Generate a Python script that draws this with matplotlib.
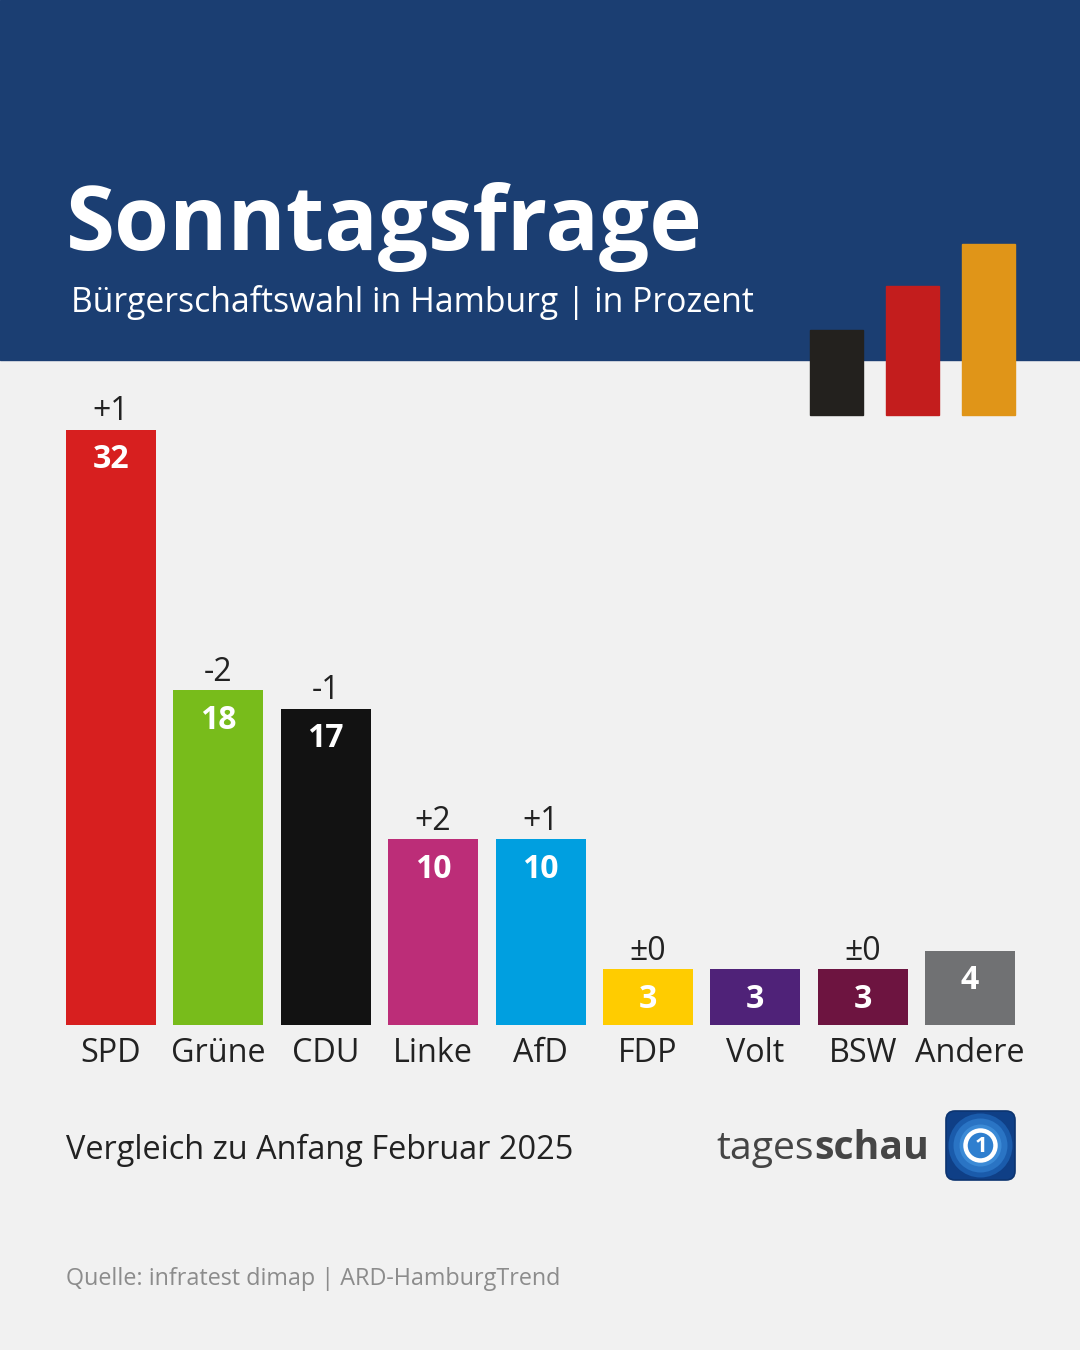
import matplotlib
matplotlib.use("Agg")
import matplotlib.pyplot as plt
from matplotlib.patches import Rectangle, FancyBboxPatch, Circle

# ---- data ----
parties = ["SPD", "Grüne", "CDU", "Linke", "AfD", "FDP", "Volt", "BSW", "Andere"]
values = [32, 18, 17, 10, 10, 3, 3, 3, 4]
changes = ["+1", "-2", "-1", "+2", "+1", "±0", "", "±0", ""]
colors = ["#d71f1f", "#78bc1b", "#121212", "#bc2d78", "#009fe0",
          "#ffcc00", "#4f2278", "#6d1440", "#707173"]

title = "Sonntagsfrage"
subtitle = "Bürgerschaftswahl in Hamburg | in Prozent"
note = "Vergleich zu Anfang Februar 2025"
source = "Quelle: infratest dimap | ARD-HamburgTrend"

FONT = ["Open Sans", "DejaVu Sans"]
plt.rcParams["font.family"] = FONT

W, H = 1080, 1350
fig = plt.figure(figsize=(W / 100, H / 100), dpi=100)
fig.patch.set_facecolor("#f1f1f1")

# overlay axes in pixel coordinates for decoration
deco = fig.add_axes([0, 0, 1, 1])
deco.set_xlim(0, W)
deco.set_ylim(H, 0)
deco.axis("off")

deco.add_patch(Rectangle((0, 0), W, 360, color="#1b3e72", zorder=1))
# decorative bars (black red gold)
for x0, top, c in [(810, 330, "#23211e"), (886, 286, "#c31d1d"), (962, 244, "#e09518")]:
    deco.add_patch(Rectangle((x0, top), 53, 415 - top, color=c, zorder=2))

deco.text(66, 250, title, color="white", fontsize=64, fontweight="bold",
          ha="left", va="baseline", zorder=3)
deco.text(71, 312, subtitle, color="white", fontsize=24.3, fontweight="medium",
          ha="left", va="baseline", zorder=3)

deco.text(66, 1159, note, color="#222222", fontsize=23.4,
          ha="left", va="baseline")
deco.text(66, 1285, source, color="#8c8c8c", fontsize=16.8, fontweight="medium",
          ha="left", va="baseline")

# tagesschau logo
fig.canvas.draw()
r = fig.canvas.get_renderer()
t2 = deco.text(929, 1159, "schau", color="#454545", fontsize=28.2, fontweight="bold",
               ha="right", va="baseline")
bb = t2.get_window_extent(renderer=r)
deco.text(bb.x0, 1159, "tages", color="#454545", fontsize=28.2,
          ha="right", va="baseline")
deco.add_patch(FancyBboxPatch((946, 1111), 69, 69,
                              boxstyle="round,pad=0,rounding_size=9",
                              facecolor="#0f3f86", edgecolor="#0c3470", lw=1.2, zorder=3))
for rad, col in [(32, "#1a5bab"), (27, "#2a74c4"), (21, "#3b8ad6")]:
    deco.add_patch(Circle((980.5, 1145.5), rad, facecolor=col, edgecolor="none", zorder=4))
deco.add_patch(Circle((980.5, 1145.5), 15, facecolor="#2f7fcf", edgecolor="white", lw=3.2, zorder=5))
deco.text(981, 1146, "1", color="white", fontsize=16, fontweight="bold",
          ha="center", va="center", zorder=6)

# ---- bar chart ----
baseline_px = 1025
unit_px = 595 / 32
ymax = 35
spacing = (970 - 111) / 8
left_px = 111 - spacing / 2
ax = fig.add_axes([left_px / W, (H - baseline_px) / H,
                   9 * spacing / W, ymax * unit_px / H])
ax.set_facecolor("none")
ax.set_xlim(-0.5, 8.5)
ax.set_ylim(0, ymax)
ax.axis("off")

xs = list(range(len(parties)))
ax.bar(xs, values, width=90 / spacing, color=colors, zorder=2)

px2pt = 72 / 100
for x, v, ch, name in zip(xs, values, changes, parties):
    ax.annotate(str(v), (x, v), xytext=(0, -30 * px2pt), textcoords="offset points",
                ha="center", va="center", color="white", fontsize=23,
                fontweight="bold", zorder=3)
    if ch:
        ax.annotate(ch, (x, v), xytext=(0, 18 * px2pt), textcoords="offset points",
                    ha="center", va="center", color="#222222", fontsize=23)
    ax.annotate(name, (x, 0), xytext=(0, -28 * px2pt), textcoords="offset points",
                ha="center", va="center", color="#222222", fontsize=23.3)

fig.savefig("out.png", dpi=100, facecolor=fig.get_facecolor())
